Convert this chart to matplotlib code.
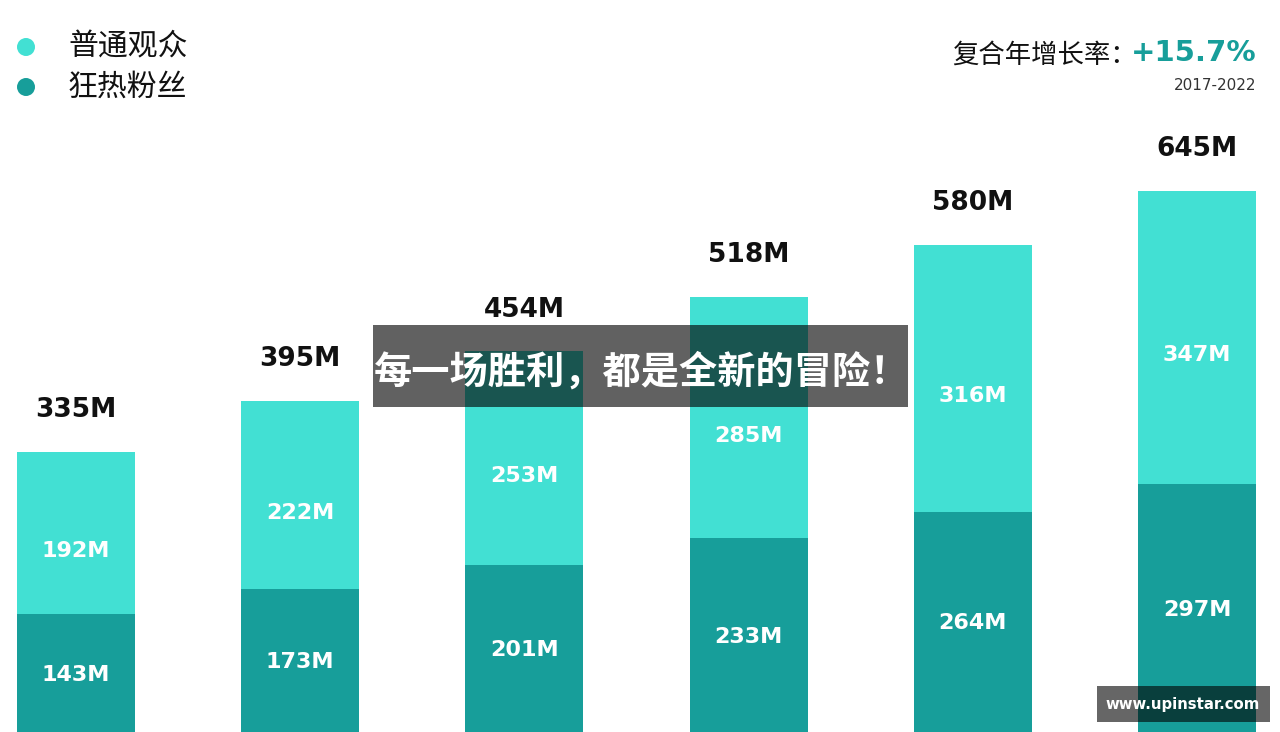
import matplotlib
matplotlib.use("Agg")
import matplotlib.pyplot as plt
from matplotlib.patches import Rectangle, Ellipse

# 数据 (单位: 百万)
tahun = ["2017", "2018", "2019", "2020", "2021", "2022"]
fans = [143, 173, 201, 233, 264, 297]        # 狂热粉丝 (bawah)
viewers = [192, 222, 253, 285, 316, 347]     # 普通观众 (atas)
totals = [335, 395, 454, 518, 580, 645]
legend_labels = ["普通观众", "狂热粉丝"]
cagr_text = "+15.7%"
cagr_period = "2017-2022"
banner_text = "每一场胜利，都是全新的冒险！"
watermark = "www.upinstar.com"

warna_muda = "#42e0d3"
warna_tua = "#179e9a"
cjk = ["Noto Sans CJK SC", "DejaVu Sans"]

fig = plt.figure(figsize=(12.8, 7.32), dpi=100)
ax = fig.add_axes([0, 0, 1, 1])
ax.set_xlim(-0.339, 5.37)
ax.set_ylim(3.6, 869.5)
ax.axis("off")

x = list(range(len(tahun)))
lebar = 0.526
ax.bar(x, fans, width=lebar, color=warna_tua, zorder=2)
ax.bar(x, viewers, width=lebar, bottom=fans, color=warna_muda, zorder=2)

# label angka
for i in x:
    ax.annotate(f"{totals[i]}M", (i, fans[i] + viewers[i]), xytext=(0, 30),
                textcoords="offset points", ha="center", va="center",
                fontsize=19, fontweight="bold", color="#111111")
    ax.annotate(f"{viewers[i]}M", (i, fans[i] + viewers[i] / 2), xytext=(0, -13),
                textcoords="offset points", ha="center", va="center",
                fontsize=16, fontweight="bold", color="white", zorder=3)
    ax.annotate(f"{fans[i]}M", (i, fans[i] / 2), xytext=(0, 0),
                textcoords="offset points", ha="center", va="center",
                fontsize=16, fontweight="bold", color="white", zorder=3)

# legenda manual (koordinat figure, piksel -> fraksi)
W, H = 1280, 732
for j, (lbl, c) in enumerate(zip(legend_labels, [warna_muda, warna_tua])):
    yy = 1 - (47 + 40 * j) / H
    fig.patches.append(Ellipse((26 / W, yy), 18 / W, 18 / H,
                               transform=fig.transFigure, facecolor=c,
                               lw=0, zorder=5))
    fig.text(68 / W, yy, lbl, family=cjk, fontsize=21.5, va="center",
             ha="left", color="#111111", fontweight="medium")

# CAGR kanan atas
fig.text(1137 / W, 1 - 55 / H, "复合年增长率：", family=cjk, fontsize=19,
         ha="right", va="center", color="#111111")
fig.text(1256 / W, 1 - 53 / H, cagr_text, fontsize=21, fontweight="bold",
         ha="right", va="center", color="#179e9a")
fig.text(1256 / W, 1 - 86 / H, cagr_period, fontsize=11,
         ha="right", va="center", color="#333333")

# banner tengah
fig.patches.append(Rectangle((373 / W, 1 - 407 / H), 535 / W, 82 / H,
                             transform=fig.transFigure, facecolor="black",
                             lw=0, alpha=0.62, zorder=6))
fig.text(642 / W, 1 - 372 / H, banner_text, family=cjk, fontsize=27.5,
         fontweight="bold", ha="center", va="center", color="white", zorder=7)

# watermark
fig.patches.append(Rectangle((1097 / W, 1 - 722 / H), 173 / W, 36 / H,
                             transform=fig.transFigure, facecolor="black",
                             lw=0, alpha=0.6, zorder=6))
fig.text(1183 / W, 1 - 705 / H, watermark, fontsize=10.7, fontweight="bold",
         ha="center", va="center", color="white", zorder=7)

fig.savefig("out.png", dpi=100)
